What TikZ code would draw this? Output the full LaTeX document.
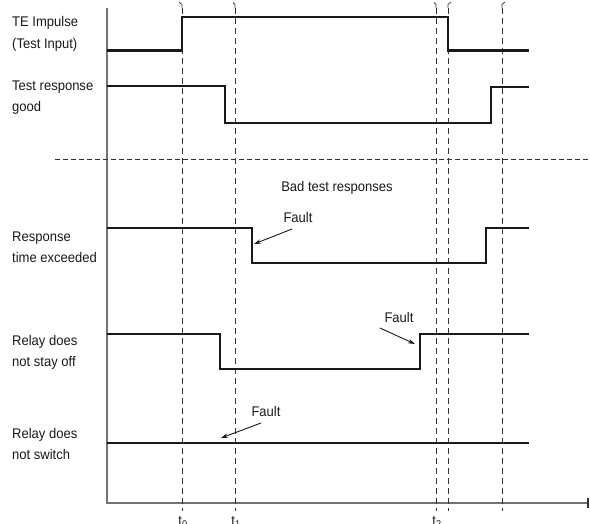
\documentclass[tikz,border=0pt]{standalone}
\usepackage{fontspec}
\setmainfont{Liberation Sans}[FakeStretch=0.93]
\usetikzlibrary{arrows.meta}
\begin{document}
\begin{tikzpicture}[x=1pt,y=-1pt,
  lbl/.style={anchor=base west,inner sep=0pt,font=\fontsize{14}{16}\selectfont,text=black!90},
  ctr/.style={anchor=base,inner sep=0pt,font=\fontsize{14}{16}\selectfont,text=black!90},
  sig/.style={line width=2.6pt,black!90,line join=miter,line cap=butt},
  gridline/.style={dash pattern=on 6pt off 4pt,line width=0.9pt,black!80},
  hook/.style={line width=0.8pt,black!75},
  axisline/.style={line width=1.4pt,black!55},
  faultarrow/.style={line width=0.9pt,black!90,-{Stealth[length=7pt,width=4.5pt]}}]
\useasboundingbox (0,0) rectangle (590,523);

% axes
\draw[axisline] (107,8) -- (107,503) -- (588,503);
\draw[line width=2pt,black!80] (588,498) -- (588,508);

% time markers
\foreach \x in {182,235,436,448,502}
  \draw[gridline] (\x,8) -- (\x,511);
\draw[hook] (179,2) -- (182,4.5) -- (182,8);
\draw[hook] (233,2.5) -- (235,4.5) -- (235,8);
\draw[hook] (434,2.5) -- (436,4.5) -- (436,8);
\draw[hook] (451,2) -- (448,4.5) -- (448,8);
\draw[hook] (505,2) -- (502,4.5) -- (502,8);

% separator
\draw[dash pattern=on 5pt off 3pt,line width=0.9pt,black!80] (55,159) -- (590,159);

% signals
\draw[sig] (107,50.5) -- (182,50.5) -- (182,17) -- (448,17) -- (448,50.5) -- (529,50.5);
\draw[sig] (107,86) -- (225,86) -- (225,123) -- (491,123) -- (491,87) -- (529,87);
\draw[sig] (107,228) -- (252,228) -- (252,263) -- (486,263) -- (486,228) -- (529,228);
\draw[sig] (107,334) -- (220,334) -- (220,369) -- (420,369) -- (420,334) -- (529,334);
\draw[sig] (107,443) -- (529,443);

% left labels
\node[lbl] (te1) at (12,26) {TE Impulse};
\node[lbl] (te2) at (12,48) {(Test Input)};
\node[lbl] (tr1) at (12,90) {Test response};
\node[lbl] (tr2) at (12,111) {good};
\node[lbl] (rt1) at (12,241) {Response};
\node[lbl] (rt2) at (12,262) {time exceeded};
\node[lbl] (so1) at (12,345) {Relay does};
\node[lbl] (so2) at (12,366) {not stay off};
\node[lbl] (ns1) at (12,438) {Relay does};
\node[lbl] (ns2) at (12,459) {not switch};

\node[ctr] (bad) at (337,191) {Bad test responses};

% faults
\node[ctr] (f1) at (298,222) {Fault};
\coordinate (f1s) at (292,229);
\coordinate (f1e) at (254,244);
\draw[faultarrow] (f1s) -- (f1e);

\node[ctr] (f2) at (399,322) {Fault};
\coordinate (f2s) at (380,328);
\coordinate (f2e) at (415,344);
\draw[faultarrow] (f2s) -- (f2e);

\node[ctr] (f3) at (266,416) {Fault};
\coordinate (f3s) at (261,423);
\coordinate (f3e) at (221,438);
\draw[faultarrow] (f3s) -- (f3e);

% time labels (cut by page edge, as in the reference)
\node[ctr] (t0) at (183,525) {t\textsubscript{0}};
\node[ctr] (t1) at (236,525) {t\textsubscript{1}};
\node[ctr] (t2) at (437,525) {t\textsubscript{2}};
\end{tikzpicture}
\end{document}
